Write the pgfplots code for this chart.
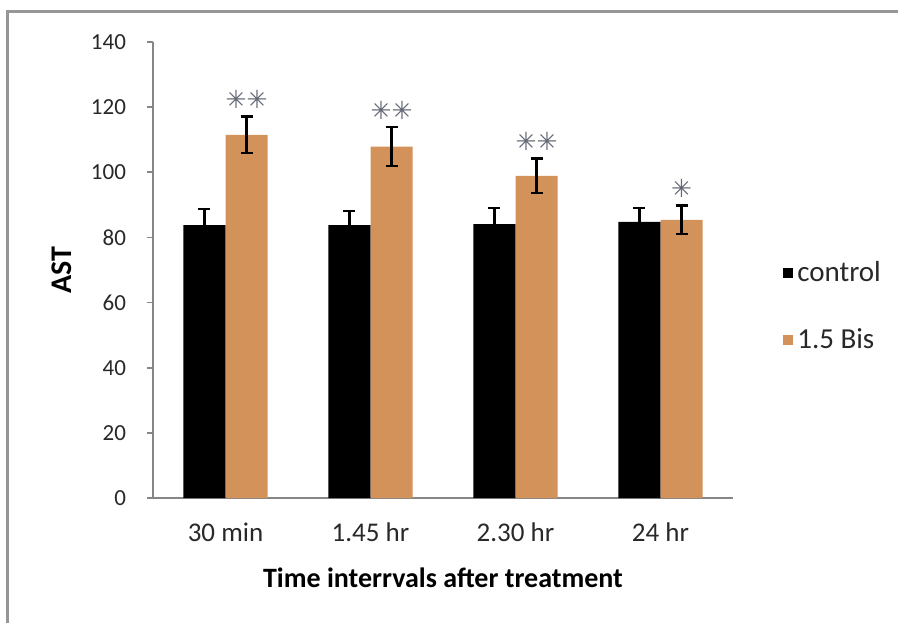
\documentclass[border=0pt]{standalone}
\usepackage{fontspec}
\setmainfont{Carlito}
\newfontfamily\djv{DejaVu Sans}
\usepackage{pgfplots}
\usepackage{pgfplotstable}
\pgfplotsset{compat=1.18}
\definecolor{wood}{RGB}{210,146,90}
\definecolor{axgray}{RGB}{134,134,134}
\definecolor{framegray}{RGB}{150,150,150}
\definecolor{stargray}{RGB}{100,104,116}
\definecolor{txt}{RGB}{40,40,40}
\pgfplotstableread{
x ctrl ce bis be sy meta
0 83.8 4.9 111.5 5.6 117.1 ✳✳
1 83.8 4.3 107.9 6.0 113.9 ✳✳
2 84.1 4.9 98.9 5.3 104.2 ✳✳
3 84.8 4.2 85.4 4.4 89.8 ✳
}\data
\begin{document}
\begin{tikzpicture}
\path[use as bounding box] (0,0) rectangle (449pt,311.5pt);
\draw[framegray, line width=1.5pt] (3.5pt,0pt) -- (3.5pt,305.5pt) -- (449pt,305.5pt);
\begin{axis}[
  at={(76.5pt,62.5pt)}, anchor=south west,
  scale only axis, width=290pt, height=228pt,
  ymin=0, ymax=140, ytick={0,20,...,140},
  xmin=-0.5, xmax=3.5, xtick={0,1,2,3},
  xticklabels={30 min,1.45 hr,2.30 hr,24 hr},
  axis x line*=bottom, axis y line*=left,
  axis line style={axgray, line width=0.8pt},
  tick align=outside,
  xtick style={draw=none},
  ytick style={draw=axgray, line width=0.8pt},
  major tick length=3pt,
  extra x ticks={-0.5,0.5,1.5,2.5,3.5},
  extra x tick labels={},
  extra x tick style={major tick length=5pt, tick style={draw=axgray, line width=0.8pt}},
  /pgf/number format/assume math mode=true,
  tick label style={font=\fontsize{11.5}{13}\selectfont, text=txt},
  xticklabel style={yshift=-6pt, font=\fontsize{13.5}{15}\selectfont},
  yticklabel style={xshift=-7pt},
  ybar, bar width=0.29,
  xlabel={\bfseries Time interrvals after treatment},
  ylabel={\bfseries AST},
  xlabel style={at={(axis description cs:0.5,-0.175)}, anchor=center, font=\fontsize{14}{16}\selectfont},
  ylabel style={at={(axis description cs:-0.157,0.5)}, anchor=center, font=\fontsize{15}{17}\selectfont},
  legend style={at={(axis description cs:1.075,0.42)}, anchor=west, draw=none, fill=none,
    font=\fontsize{14.5}{16}\selectfont, row sep=18pt, text=txt},
  legend image code/.code={\fill[#1] (0pt,-2.6pt) rectangle (5.2pt,2.6pt);},
  legend cell align=left,
  error bars/error bar style={line width=1.2pt, black},
  error bars/error mark options={rotate=90, mark size=3pt, line width=1.2pt, black},
]
\addplot[fill=black, draw=none, bar shift=-0.145, error bars/.cd, y dir=both, y explicit]
  table[x=x, y=ctrl, y error=ce] {\data};
\addplot[fill=wood, draw=none, bar shift=0.145, error bars/.cd, y dir=both, y explicit]
  table[x=x, y=bis, y error=be] {\data};
\addplot[draw=none, fill=none, forget plot, bar shift=0.145,
  nodes near coords, point meta=explicit symbolic,
  every node near coord/.append style={anchor=center, yshift=8.5pt,
    font=\djv\fontsize{12.5}{14}\selectfont, text=stargray, inner sep=0pt}]
  table[x=x, y=sy, meta=meta] {\data};
\legend{control, 1.5 Bis}
\end{axis}
\end{tikzpicture}
\end{document}
